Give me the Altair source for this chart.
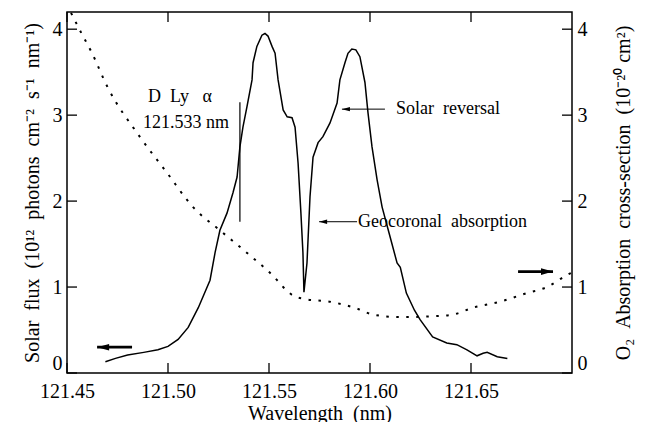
import altair as alt
import pandas as pd

# ---- data ----
flux_wl = [121.469, 121.474, 121.480, 121.488, 121.495, 121.500, 121.505, 121.510, 121.515,
           121.5208, 121.5233, 121.5257, 121.5292, 121.5322, 121.5342, 121.5356, 121.5371,
           121.5391, 121.5416, 121.5421, 121.544, 121.5465, 121.548, 121.5495, 121.5515,
           121.553, 121.5545, 121.557, 121.559, 121.5614, 121.5629, 121.5644, 121.5658,
           121.5668, 121.5673, 121.5688, 121.5703, 121.5718, 121.5743, 121.5767, 121.5802,
           121.5837, 121.5851, 121.5876, 121.5891, 121.591, 121.593, 121.595, 121.5975,
           121.599, 121.601, 121.6035, 121.606, 121.610, 121.6134, 121.615, 121.618, 121.622,
           121.6248, 121.631, 121.638, 121.643, 121.648, 121.653, 121.656, 121.658, 121.663,
           121.668]
flux_val = [0.13, 0.17, 0.21, 0.24, 0.27, 0.31, 0.39, 0.53, 0.76,
            1.08, 1.40, 1.66, 1.86, 2.10, 2.28, 2.63, 2.86,
            3.10, 3.41, 3.61, 3.80, 3.93, 3.95, 3.92, 3.80,
            3.72, 3.41, 3.06, 2.98, 2.97, 2.86, 2.44, 1.86,
            1.40, 0.94, 1.28, 2.05, 2.51, 2.68, 2.75, 2.91,
            3.14, 3.41, 3.61, 3.72, 3.77, 3.76, 3.68, 3.38,
            3.03, 2.63, 2.25, 1.93, 1.58, 1.28, 1.23, 0.93, 0.73,
            0.62, 0.42, 0.35, 0.33, 0.27, 0.20, 0.23, 0.24, 0.19,
            0.17]

o2_wl = [121.452, 121.457, 121.462, 121.470, 121.486, 121.4995, 121.5124, 121.5257, 121.539,
         121.554, 121.557, 121.562, 121.568, 121.580, 121.5936, 121.6015, 121.615, 121.631,
         121.641, 121.651, 121.6644, 121.6777, 121.6876, 121.6975, 121.700]
o2_val = [4.19, 3.96, 3.74, 3.33, 2.75, 2.33, 1.93, 1.66, 1.40,
          1.08, 1.00, 0.90, 0.86, 0.83, 0.75, 0.68, 0.65, 0.66,
          0.68, 0.76, 0.83, 0.93, 1.00, 1.14, 1.17]

x_ticks = [121.45, 121.50, 121.55, 121.60, 121.65]
y_ticks = [0, 1, 2, 3, 4]

x_title = "Wavelength\u2002(nm)"
y_title = ("Solar\u2002flux\u2002(10\u00b9\u00b2\u2002photons\u2002cm\u207b\u00b2\u2002"
           "s\u207b\u00b9\u2002nm\u207b\u00b9)")
y2_title = "O\u2082\u2002Absorption\u2002cross-section\u2002(10\u207b\u00b2\u2070\u00a0cm\u00b2)"

# annotations
ann_text = ["D\u2002Ly\u2002\u00a0\u03b1", "121.533 nm", "Solar\u2002reversal", "Geocoronal\u2002absorption"]
ann_x = [121.5059, 121.5089, 121.6124, 121.5936]
ann_y = [3.21, 2.91, 3.07, 1.76]
ann_align = ["center", "center", "left", "left"]

marker_x = [121.5356]
marker_y = [1.76]
marker_y2 = [3.15]

thin_arrow_x = [121.5861, 121.5748]     # arrow tips
thin_arrow_x2 = [121.6074, 121.5936]    # arrow tails
thin_arrow_y = [3.07, 1.76]

left_arrow = {"x": [121.4649], "x2": [121.4822], "y": [0.30]}
right_arrow = {"x": [121.6906], "x2": [121.6733], "y": [1.18]}

FONT = "Liberation Serif"
W, H = 505, 361

xs = alt.Scale(domain=[121.45, 121.70], nice=False, zero=False)
ys = alt.Scale(domain=[0, 4.2], nice=False, zero=True)

flux_df = pd.DataFrame({"wl": flux_wl, "v": flux_val})
o2_df = pd.DataFrame({"wl": o2_wl, "v": o2_val})

common_axis = dict(ticks=False, tickSize=0, domain=False, grid=False,
                   labelFont=FONT, labelFontSize=20, labelColor="black",
                   titleFont=FONT, titleFontSize=20, titleFontWeight="normal",
                   titleColor="black")

flux = alt.Chart(flux_df).mark_line(color="black", strokeWidth=1.5).encode(
    x=alt.X("wl:Q", scale=xs, axis=alt.Axis(values=x_ticks, format=".2f", title=x_title,
            labelPadding=8, titlePadding=2, labelFlush=False, orient="bottom",
            **common_axis)),
    y=alt.Y("v:Q", scale=ys, axis=alt.Axis(values=y_ticks, format="d", title=y_title,
            labelPadding=5, titlePadding=10, labelFlush=True, orient="left",
            **common_axis)),
)

o2 = alt.Chart(o2_df).mark_line(color="black", strokeWidth=2, strokeDash=[2.5, 7.5],
                                interpolate="monotone").encode(
    x=alt.X("wl:Q", scale=xs, axis=None),
    y=alt.Y("v:Q", scale=ys, axis=alt.Axis(values=y_ticks, format="d", title=y2_title,
            labelPadding=5, titlePadding=26, titleAngle=270, titleBaseline="top",
            labelFlush=True, orient="right", **common_axis)),
)

xt_df = pd.DataFrame({"t": x_ticks})
yt_df = pd.DataFrame({"t": y_ticks})
tick_style = dict(color="black", strokeWidth=1.3)
xt_bottom = alt.Chart(xt_df).mark_rule(**tick_style).encode(
    x=alt.X("t:Q", scale=xs, axis=None), y=alt.value(H), y2=alt.value(H - 10))
xt_top = alt.Chart(xt_df).mark_rule(**tick_style).encode(
    x=alt.X("t:Q", scale=xs, axis=None), y=alt.value(0), y2=alt.value(10))
yt_left = alt.Chart(yt_df).mark_rule(**tick_style).encode(
    y=alt.Y("t:Q", scale=ys, axis=None), x=alt.value(0), x2=alt.value(10))
yt_right = alt.Chart(yt_df).mark_rule(**tick_style).encode(
    y=alt.Y("t:Q", scale=ys, axis=None), x=alt.value(W), x2=alt.value(W - 10))

ann_df = pd.DataFrame({"text": ann_text, "x": ann_x, "y": ann_y, "align": ann_align})
ann_c = alt.Chart(ann_df[ann_df["align"] == "center"]).mark_text(
    font=FONT, fontSize=18, color="black", align="center", baseline="middle").encode(
    x=alt.X("x:Q", scale=xs, axis=None), y=alt.Y("y:Q", scale=ys, axis=None), text="text:N")
ann_l = alt.Chart(ann_df[ann_df["align"] == "left"]).mark_text(
    font=FONT, fontSize=18, color="black", align="left", baseline="middle", dx=1).encode(
    x=alt.X("x:Q", scale=xs, axis=None), y=alt.Y("y:Q", scale=ys, axis=None), text="text:N")

marker = alt.Chart(pd.DataFrame({"x": marker_x, "y": marker_y, "y2": marker_y2})).mark_rule(
    color="black", strokeWidth=1.2).encode(
    x=alt.X("x:Q", scale=xs, axis=None), y=alt.Y("y:Q", scale=ys, axis=None), y2="y2:Q")

thin_df = pd.DataFrame({"x": thin_arrow_x, "x2": thin_arrow_x2, "y": thin_arrow_y})
thin_shaft = alt.Chart(thin_df).mark_rule(color="black", strokeWidth=1).encode(
    x=alt.X("x:Q", scale=xs, axis=None), x2="x2:Q", y=alt.Y("y:Q", scale=ys, axis=None))
LEFT_HEAD = "M0,0L2,-0.55L2,0.55Z"
RIGHT_HEAD = "M0,0L-2,-0.55L-2,0.55Z"
thin_head = alt.Chart(thin_df).mark_point(shape=LEFT_HEAD, filled=True, color="black",
                                          size=64, opacity=1).encode(
    x=alt.X("x:Q", scale=xs, axis=None), y=alt.Y("y:Q", scale=ys, axis=None))

la_df = pd.DataFrame(left_arrow)
ra_df = pd.DataFrame(right_arrow)
la_shaft = alt.Chart(la_df).mark_rule(color="black", strokeWidth=2.8).encode(
    x=alt.X("x:Q", scale=xs, axis=None), x2="x2:Q", y=alt.Y("y:Q", scale=ys, axis=None))
la_head = alt.Chart(la_df).mark_point(shape=LEFT_HEAD, filled=True, color="black",
                                      size=144, opacity=1).encode(
    x=alt.X("x:Q", scale=xs, axis=None), y=alt.Y("y:Q", scale=ys, axis=None))
ra_shaft = alt.Chart(ra_df).mark_rule(color="black", strokeWidth=2.8).encode(
    x=alt.X("x:Q", scale=xs, axis=None), x2="x2:Q", y=alt.Y("y:Q", scale=ys, axis=None))
ra_head = alt.Chart(ra_df).mark_point(shape=RIGHT_HEAD, filled=True, color="black",
                                      size=144, opacity=1).encode(
    x=alt.X("x:Q", scale=xs, axis=None), y=alt.Y("y:Q", scale=ys, axis=None))

chart = alt.layer(
    flux, o2, xt_bottom, xt_top, yt_left, yt_right, ann_c, ann_l, marker,
    thin_shaft, thin_head, la_shaft, la_head, ra_shaft, ra_head
).resolve_scale(y="shared", x="shared").resolve_axis(
    y="independent", x="independent"
).properties(
    width=W, height=H,
    autosize=alt.AutoSizeParams(type="none"),
    padding={"left": 59, "top": 4, "right": 71, "bottom": 49},
    background="white",
).configure(font=FONT).configure_axis(
    labelFont=FONT, titleFont=FONT, labelFontSize=20, titleFontSize=20,
    titleFontWeight="normal", labelColor="black", titleColor="black"
).configure_view(stroke="black", strokeWidth=1.5)

chart.save("out.html", embed_options={"renderer": "svg", "actions": False})
